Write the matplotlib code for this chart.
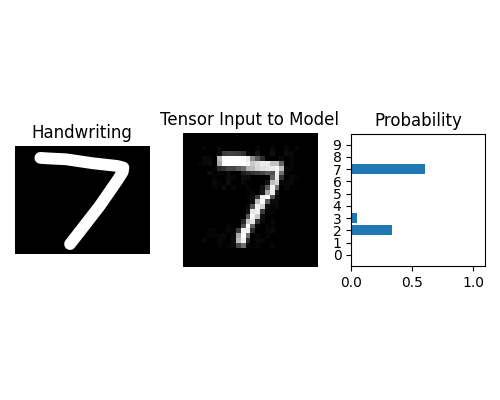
import numpy as np
import matplotlib
matplotlib.use("Agg")
import matplotlib.pyplot as plt

digits = list(range(10))
probabilities = [0, 0, 0.331, 0.047, 0, 0, 0, 0.605, 0, 0]
stroke_x = [0.19, 0.25, 0.38, 0.58, 0.76, 0.805, 0.80, 0.765, 0.63, 0.506, 0.41]
stroke_y = [0.89, 0.885, 0.877, 0.84, 0.815, 0.80, 0.76, 0.69, 0.446, 0.246, 0.092]
# tensor cells: row -> {column: brightness 0-255}
tensor_rows = {
 3: {4:6,7:8,15:5,18:8,21:8,23:5},
 4: {7:12,8:60,9:65,10:65,11:60,12:50,13:10,15:18,18:14,21:12,22:8},
 5: {4:8,5:8,7:190,8:255,9:255,10:255,11:255,12:250,13:235,14:140,15:90,16:45,20:8,22:6},
 6: {3:4,4:8,5:10,7:170,8:255,9:255,10:255,11:255,12:255,13:245,14:200,15:220,16:235,17:235,18:195,19:195,20:100,22:6},
 7: {6:5,7:40,8:50,9:70,10:70,11:90,12:110,13:180,14:190,15:215,16:225,17:230,18:235,19:245,20:190,21:8,22:5},
 8: {5:12,7:6,9:10,12:30,13:40,14:50,15:60,16:70,17:90,18:80,19:240,20:110,21:6},
 9: {6:5,9:10,10:5,12:12,13:12,18:100,19:235,20:50,22:8,23:5},
 10:{6:8,7:5,9:12,12:8,17:18,18:190,19:215,20:8,21:6,22:8},
 11:{6:5,8:12,10:8,13:5,16:16,17:90,18:240,19:120,21:8},
 12:{13:4,14:6,16:25,17:170,18:235,19:25},
 13:{13:5,14:14,15:60,16:240,17:255,18:80,19:6},
 14:{14:14,15:190,16:250,17:90,18:10,19:10},
 15:{13:8,14:80,15:240,16:210,17:14,18:6,19:10},
 16:{13:18,14:230,15:240,16:60,18:6},
 17:{13:90,14:250,15:200,16:14},
 18:{12:40,13:200,14:230,15:50,16:8,18:8},
 19:{9:6,12:80,13:255,14:100,15:5,17:6,18:5},
 20:{5:4,6:5,9:8,10:5,11:60,12:240,13:240,14:40,17:6,18:10},
 21:{5:4,6:5,7:5,8:8,10:10,11:170,12:255,13:110,15:5,17:5},
 22:{4:8,7:8,8:5,10:14,11:190,12:240,13:40,15:8,16:6},
 23:{7:6,9:6,10:8,11:70,12:110,13:6,14:4,15:5,18:6},
}
tensor = np.zeros((28, 28))
for r, cells in tensor_rows.items():
    for c, v in cells.items():
        tensor[r, c] = v

fig = plt.figure(figsize=(5, 4), dpi=100)
ax1 = fig.add_axes([14.7/500, 1-254/400, 135/500, 108/400])
ax2 = fig.add_axes([183/500, 1-267.5/400, 135/500, 134.2/400])
ax3 = fig.add_axes([351.2/500, 1-266/400, 134/500, 132/400])

ax1.plot(stroke_x, stroke_y, color="white", lw=8.5, solid_capstyle="round", solid_joinstyle="round")
ax1.set_xlim(0, 1)
ax1.set_ylim(0, 1)
ax1.set_xticks([])
ax1.set_yticks([])
ax1.set_facecolor("black")
for s in ax1.spines.values():
    s.set_visible(False)
ax1.set_title("Handwriting", fontsize=12, pad=5.5)

ax2.imshow(tensor, cmap="gray", vmin=0, vmax=255, aspect="auto", interpolation="nearest")
ax2.axis("off")
ax2.set_title("Tensor Input to Model", fontsize=12, pad=6, x=0.493)

ax3.barh(digits, probabilities, height=0.8, color="#1f77b4")
ax3.set_xlim(0, 1.1)
ax3.set_ylim(-0.92, 9.87)
ax3.set_yticks(digits)
ax3.set_xticks([0, 0.5, 1.0])
ax3.set_title("Probability", fontsize=12, pad=6)
fig.savefig("out.png", dpi=100)
